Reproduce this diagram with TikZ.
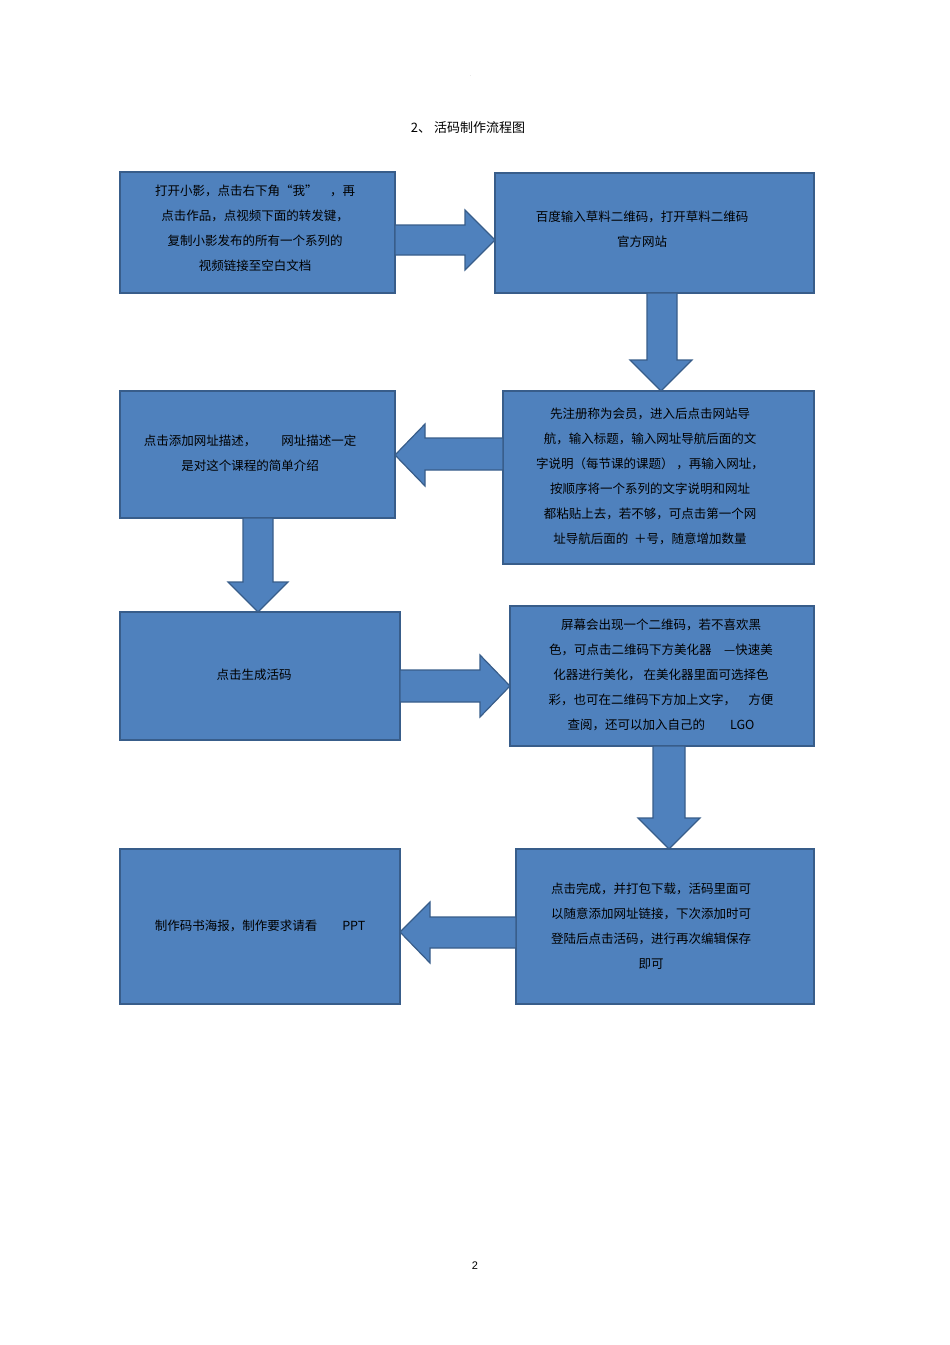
\documentclass[tikz,border=0pt]{standalone}
\usepackage{fontspec}
\newfontfamily\cjk{Noto Sans CJK SC}
\setmainfont{Liberation Sans}
\begin{document}
\begin{tikzpicture}[x=1pt,y=-1pt,
  box/.style={draw=boxline,fill=boxfill,line width=1.5pt},
  arr/.style={draw=boxline,fill=boxfill,line width=1.2pt,line join=miter},
  txt/.style={align=center,font=\cjk\fontsize{12.5}{25}\selectfont,text=black}]
\definecolor{boxfill}{HTML}{4F81BD}
\definecolor{boxline}{HTML}{385D8A}
\useasboundingbox (0,0) rectangle (950,1345);
\node[font=\fontsize{4}{4}\selectfont,text=gray] (dot) at (471,76) {.};
\node[font=\cjk\fontsize{13}{15}\selectfont] (title) at (468,128) {2、 活码制作流程图};
\node[font=\fontsize{11}{13}\selectfont] (pg) at (475,1266) {2};
% boxes
\draw[box] (120,172) rectangle (395,293);
\draw[box] (495,173) rectangle (814,293);
\draw[box] (503,391) rectangle (814,564);
\draw[box] (120,391) rectangle (395,518);
\draw[box] (120,612) rectangle (400,740);
\draw[box] (510,606) rectangle (814,746);
\draw[box] (516,849) rectangle (814,1004);
\draw[box] (120,849) rectangle (400,1004);
% arrows
\draw[arr] (395,225)--(465,225)--(465,210)--(495,240)--(465,270)--(465,255)--(395,255)--cycle;
\draw[arr] (647,293)--(677,293)--(677,360)--(692,360)--(661,391)--(630,360)--(647,360)--cycle;
\draw[arr] (503,438)--(425,438)--(425,424)--(395,455)--(425,486)--(425,470)--(503,470)--cycle;
\draw[arr] (243,518)--(273,518)--(273,582)--(288,582)--(258,612)--(228,582)--(243,582)--cycle;
\draw[arr] (400,670)--(480,670)--(480,655)--(510,686)--(480,717)--(480,702)--(400,702)--cycle;
\draw[arr] (653,746)--(685,746)--(685,818)--(700,818)--(669,849)--(638,818)--(653,818)--cycle;
\draw[arr] (516,917)--(430,917)--(430,902)--(400,932)--(430,963)--(430,948)--(516,948)--cycle;
% texts
\node[txt] (t1) at (255,228) {打开小影，点击右下角“我”\quad ，再\\点击作品，点视频下面的转发键，\\复制小影发布的所有一个系列的\\视频链接至空白文档};
\node[txt] (t2) at (642,229) {百度输入草料二维码，打开草料二维码\\官方网站};
\node[txt] (t3) at (650,476) {先注册称为会员，进入后点击网站导\\航，输入标题，输入网址导航后面的文\\字说明（每节课的课题）\ ，再输入网址，\\按顺序将一个系列的文字说明和网址\\都粘贴上去，若不够，可点击第一个网\\址导航后面的\ \ ＋号，随意增加数量};
\node[txt] (t4) at (250,453) {点击添加网址描述，\qquad 网址描述一定\\是对这个课程的简单介绍};
\node[txt] (t5) at (254,675) {点击生成活码};
\node[txt] (t6) at (661,675) {屏幕会出现一个二维码，若不喜欢黑\\色，可点击二维码下方美化器\quad —快速美\\化器进行美化，\ 在美化器里面可选择色\\彩，也可在二维码下方加上文字，\quad 方便\\查阅，还可以加入自己的\qquad LGO};
\node[txt] (t7) at (651,926) {点击完成，并打包下载，活码里面可\\以随意添加网址链接，下次添加时可\\登陆后点击活码，进行再次编辑保存\\即可};
\node[txt] (t8) at (260,926) {制作码书海报，制作要求请看\qquad PPT};
\end{tikzpicture}
\end{document}
